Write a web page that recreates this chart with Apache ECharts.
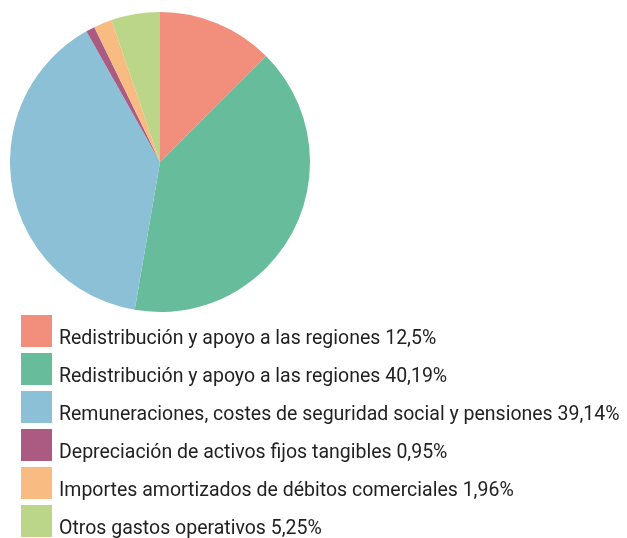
<!DOCTYPE html>
<html><head><meta charset="utf-8">
<script src="https://cdn.jsdelivr.net/npm/echarts@6/dist/echarts.min.js"></script>
<style>html,body{margin:0;padding:0;background:#fff}#c{width:627px;height:538px}</style>
</head><body><div id="c"></div>
<script>
const categories = [
  "Redistribución y apoyo a las regiones",
  "Redistribución y apoyo a las regiones",
  "Remuneraciones, costes de seguridad social y pensiones",
  "Depreciación de activos fijos tangibles",
  "Importes amortizados de débitos comerciales",
  "Otros gastos operativos"
];
const values = [12.5, 40.19, 39.14, 0.95, 1.96, 5.25];
const valueLabels = ["12,5%", "40,19%", "39,14%", "0,95%", "1,96%", "5,25%"];
const colors = ["#f28e7c", "#67bd9b", "#8bc0d6", "#ab5b82", "#f8bb82", "#bcd689"];

const names = categories.map((c, i) => c + " " + valueLabels[i]);
const chart = echarts.init(document.getElementById('c'));
chart.setOption({
  animation: false,
  color: colors,
  legend: {
    orient: 'vertical',
    left: 21,
    top: 313,
    height: 400,
    padding: 0,
    itemWidth: 31,
    itemHeight: 32,
    itemGap: 2,
    icon: 'rect',
    selectedMode: false,
    data: names,
    formatter: function (n) { return '{t|' + n + '}'; },
    textStyle: {
      fontFamily: 'Roboto',
      fontSize: 19.5,
      color: '#222',
      padding: [0, 0, 0, 2],
      rich: {
        t: {
          fontFamily: 'Roboto',
          fontSize: 19.5,
          color: '#222',
          lineHeight: 20,
          padding: [16, 0, 0, 0]
        }
      }
    }
  },
  series: [{
    type: 'pie',
    center: [160, 162],
    radius: [0, 150],
    startAngle: 90,
    clockwise: true,
    label: { show: false },
    labelLine: { show: false },
    emphasis: { disabled: true },
    data: names.map((n, i) => ({ name: n, value: values[i] }))
  }]
});
</script></body></html>
